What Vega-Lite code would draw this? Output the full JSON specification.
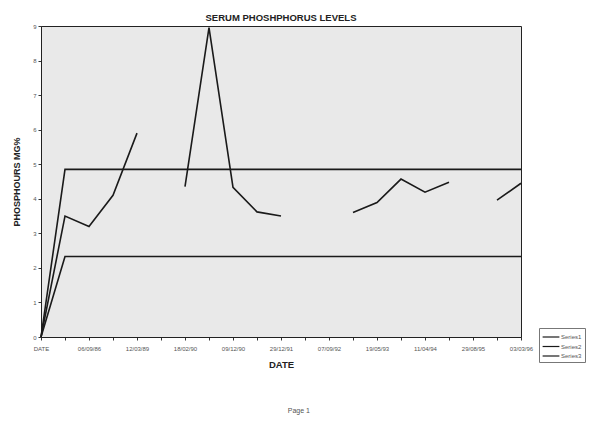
{
  "$schema": "https://vega.github.io/schema/vega-lite/v6.json",
  "background": "white",
  "padding": {"left": 12, "top": 12, "right": 5, "bottom": 5},
  "title": {"text": "Page 1", "orient": "bottom", "anchor": "middle", "fontSize": 7, "fontWeight": "normal", "font": "Liberation Sans", "color": "#555555", "offset": 38},
  "config": {
    "font": "Liberation Sans",
    "view": {"stroke": "#222222", "strokeWidth": 1, "fill": "#e9e9e9"}
  },
  "vconcat": [
    {
      "width": 480,
      "height": 311,
      "title": {"text": "SERUM PHOSHPHORUS LEVELS", "fontSize": 9.5, "font": "Liberation Sans", "fontWeight": "bold", "color": "#222222", "offset": 0.5},
      "data": {
        "values": [
          {"idx": 0, "series": "Series1", "phos": 0},
          {"idx": 1, "series": "Series1", "phos": 3.5},
          {"idx": 2, "series": "Series1", "phos": 3.2},
          {"idx": 3, "series": "Series1", "phos": 4.1},
          {"idx": 4, "series": "Series1", "phos": 5.9},
          {"idx": 5, "series": "Series1", "phos": null},
          {"idx": 6, "series": "Series1", "phos": 4.35},
          {"idx": 7, "series": "Series1", "phos": 8.95},
          {"idx": 8, "series": "Series1", "phos": 4.33},
          {"idx": 9, "series": "Series1", "phos": 3.62},
          {"idx": 10, "series": "Series1", "phos": 3.5},
          {"idx": 11, "series": "Series1", "phos": null},
          {"idx": 12, "series": "Series1", "phos": null},
          {"idx": 13, "series": "Series1", "phos": 3.6},
          {"idx": 14, "series": "Series1", "phos": 3.89},
          {"idx": 15, "series": "Series1", "phos": 4.57},
          {"idx": 16, "series": "Series1", "phos": 4.19},
          {"idx": 17, "series": "Series1", "phos": 4.48},
          {"idx": 18, "series": "Series1", "phos": null},
          {"idx": 19, "series": "Series1", "phos": 3.96},
          {"idx": 20, "series": "Series1", "phos": 4.45},
          {"idx": 0, "series": "Series2", "phos": 0},
          {"idx": 1, "series": "Series2", "phos": 4.85},
          {"idx": 2, "series": "Series2", "phos": 4.85},
          {"idx": 3, "series": "Series2", "phos": 4.85},
          {"idx": 4, "series": "Series2", "phos": 4.85},
          {"idx": 5, "series": "Series2", "phos": 4.85},
          {"idx": 6, "series": "Series2", "phos": 4.85},
          {"idx": 7, "series": "Series2", "phos": 4.85},
          {"idx": 8, "series": "Series2", "phos": 4.85},
          {"idx": 9, "series": "Series2", "phos": 4.85},
          {"idx": 10, "series": "Series2", "phos": 4.85},
          {"idx": 11, "series": "Series2", "phos": 4.85},
          {"idx": 12, "series": "Series2", "phos": 4.85},
          {"idx": 13, "series": "Series2", "phos": 4.85},
          {"idx": 14, "series": "Series2", "phos": 4.85},
          {"idx": 15, "series": "Series2", "phos": 4.85},
          {"idx": 16, "series": "Series2", "phos": 4.85},
          {"idx": 17, "series": "Series2", "phos": 4.85},
          {"idx": 18, "series": "Series2", "phos": 4.85},
          {"idx": 19, "series": "Series2", "phos": 4.85},
          {"idx": 20, "series": "Series2", "phos": 4.85},
          {"idx": 0, "series": "Series3", "phos": 0},
          {"idx": 1, "series": "Series3", "phos": 2.33},
          {"idx": 2, "series": "Series3", "phos": 2.33},
          {"idx": 3, "series": "Series3", "phos": 2.33},
          {"idx": 4, "series": "Series3", "phos": 2.33},
          {"idx": 5, "series": "Series3", "phos": 2.33},
          {"idx": 6, "series": "Series3", "phos": 2.33},
          {"idx": 7, "series": "Series3", "phos": 2.33},
          {"idx": 8, "series": "Series3", "phos": 2.33},
          {"idx": 9, "series": "Series3", "phos": 2.33},
          {"idx": 10, "series": "Series3", "phos": 2.33},
          {"idx": 11, "series": "Series3", "phos": 2.33},
          {"idx": 12, "series": "Series3", "phos": 2.33},
          {"idx": 13, "series": "Series3", "phos": 2.33},
          {"idx": 14, "series": "Series3", "phos": 2.33},
          {"idx": 15, "series": "Series3", "phos": 2.33},
          {"idx": 16, "series": "Series3", "phos": 2.33},
          {"idx": 17, "series": "Series3", "phos": 2.33},
          {"idx": 18, "series": "Series3", "phos": 2.33},
          {"idx": 19, "series": "Series3", "phos": 2.33},
          {"idx": 20, "series": "Series3", "phos": 2.33}
        ]
      },
      "mark": {"type": "line", "strokeWidth": 1.6, "invalid": "break-paths-show-domains"},
      "encoding": {
        "x": {
          "field": "idx",
          "type": "quantitative",
          "scale": {"domain": [0, 20], "nice": false, "zero": false},
          "axis": {
            "values": [0,1,2,3,4,5,6,7,8,9,10,11,12,13,14,15,16,17,18,19,20],
            "labelExpr": "datum.value % 2 == 0 ? ['DATE','06/09/86','12/03/89','18/02/90','09/12/90','29/12/91','07/09/92','19/05/93','11/04/94','29/08/95','03/03/96'][datum.value / 2] : ''",
            "labelFlush": false,
            "labelOverlap": false,
            "labelFontSize": 6,
            "labelColor": "#555555",
            "labelPadding": 5,
            "tickSize": 3,
            "tickColor": "#333333",
            "domainColor": "#222222",
            "grid": false,
            "title": "DATE",
            "titleFontSize": 9.5,
            "titleFontWeight": "bold",
            "titleColor": "#222222",
            "titlePadding": 8
          }
        },
        "y": {
          "field": "phos",
          "type": "quantitative",
          "scale": {"domain": [0, 9], "nice": false},
          "axis": {
            "values": [0,1,2,3,4,5,6,7,8,9],
            "labelFontSize": 6,
            "labelColor": "#555555",
            "labelPadding": 2,
            "tickSize": 3,
            "tickColor": "#333333",
            "domainColor": "#222222",
            "grid": false,
            "title": "PHOSPHOURS  MG%",
            "titleFontSize": 9,
            "titleFontWeight": "bold",
            "titleColor": "#222222",
            "titlePadding": 11
          }
        },
        "color": {
          "field": "series",
          "type": "nominal",
          "scale": {"range": ["#1a1a1a", "#1a1a1a", "#1a1a1a"]},
          "legend": {
            "orient": "none",
            "legendX": 498,
            "legendY": 302,
            "title": null,
            "direction": "vertical",
            "symbolType": "M-1.6,0H1.6",
            "symbolSize": 110,
            "symbolStrokeWidth": 1.2,
            "symbolOffset": 3,
            "labelFontSize": 6,
            "labelColor": "#555555",
            "labelOffset": 4,
            "rowPadding": 0.5,
            "strokeColor": "#777777",
            "fillColor": "white",
            "padding": 3
          }
        }
      }
    }
  ]
}
